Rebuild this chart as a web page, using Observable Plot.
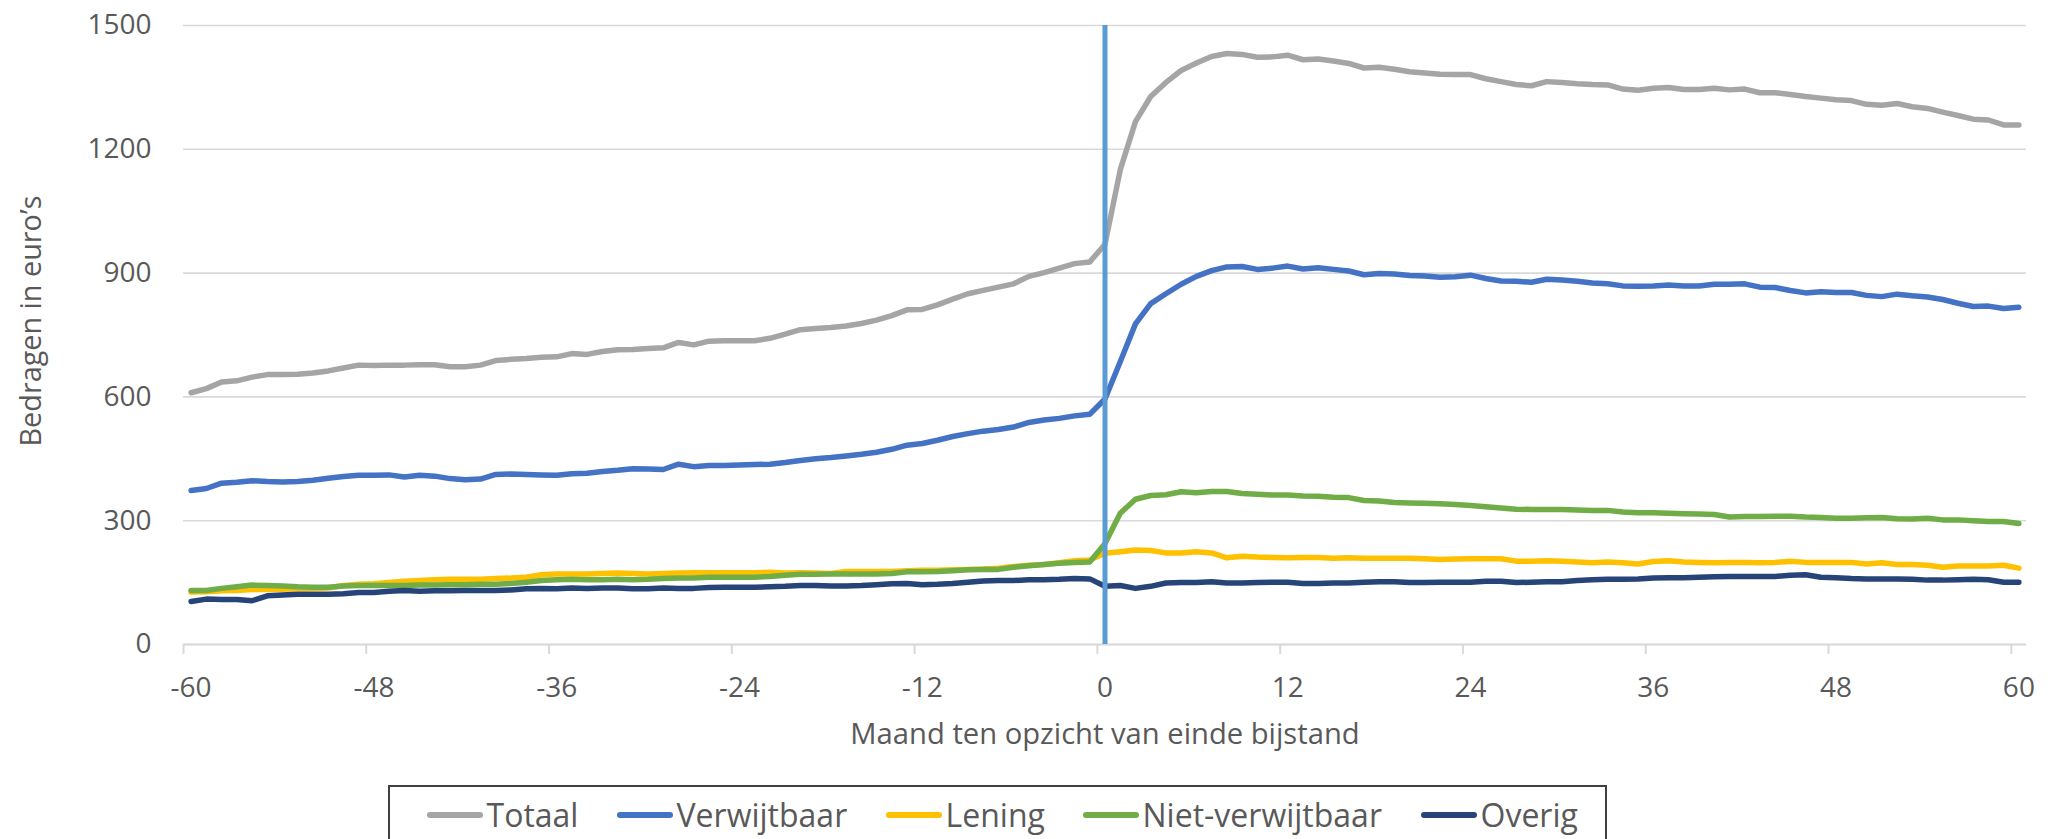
<!DOCTYPE html>
<html>
<head>
<meta charset="utf-8">
<script src="https://cdn.jsdelivr.net/npm/d3@7"></script>
<script src="https://cdn.jsdelivr.net/npm/@observablehq/plot@0.6"></script>
<style>
  html, body { margin: 0; padding: 0; background: #ffffff; }
  #wrap { position: relative; width: 2056px; height: 839px; overflow: hidden; font-family: "Open Sans", sans-serif; }
  #chart svg { display: block; }
  #legend {
    position: absolute; left: 388px; top: 785px; width: 1219px; height: 90px;
    box-sizing: border-box; border: 2px solid #404040; background: #fff;
  }
  .item { position: absolute; top: 7px; display: flex; align-items: center; height: 42px; }
  .sw { width: 56px; height: 5.5px; border-radius: 3px; margin-right: 3.5px; }
  .lb { font-size: 32px; line-height: 42px; color: #595959; white-space: nowrap; }
</style>
</head>
<body>
<div id="wrap">
  <div id="chart"></div>
  <div id="legend"></div>
</div>
<script>
// ---- data ----
const months = d3.range(-60, 61);
const xTicks = [-60, -48, -36, -24, -12, 0, 12, 24, 36, 48, 60];
const yTicks = [0, 300, 600, 900, 1200, 1500];
const seriesNames = ["Totaal", "Verwijtbaar", "Lening", "Niet-verwijtbaar", "Overig"];
const seriesColors = ["#A5A5A5", "#4472C4", "#FFC000", "#70AD47", "#264478"];

const totaal = [
  610,620,636,639,648,654,654,655,658,663,670,677,676,677,677,678,678,673,673,677,688,691,693,696,697,705,703,710,714,715,
  717,719,732,726,735,736,736,736,742,752,763,766,768,772,778,786,797,811,812,823,837,850,858,866,874,892,901,912,923,927,
  970,1150,1267,1328,1362,1391,1409,1425,1432,1430,1423,1424,1428,1417,1419,1414,1408,1397,1399,1394,1388,1385,1382,1381,1381,1371,1364,1357,1354,1364,1362,
  1359,1357,1356,1346,1343,1348,1350,1345,1345,1348,1344,1346,1337,1337,1333,1328,1324,1320,1318,1309,1307,1311,1303,1299,1290,1282,1273,1271,1259,1259
];
const verwijtbaar = [
  373,378,391,393,397,395,394,395,398,403,407,410,410,411,406,410,408,402,399,401,412,413,412,411,410,414,415,419,422,426,
  425,424,437,431,434,434,435,436,437,441,446,450,453,457,461,466,473,483,487,495,504,511,517,521,527,538,544,548,554,558,
  595,685,777,826,850,873,892,906,915,916,909,912,917,910,913,909,905,896,899,898,894,893,890,891,895,887,881,880,878,885,883,
  880,876,874,869,868,869,871,869,869,873,873,874,866,865,858,852,855,853,853,846,843,849,845,842,836,827,819,820,814,817
];
const lening = [
  127,128,130,131,133,133,134,135,136,137,143,146,147,150,153,155,157,158,158,158,160,161,163,169,171,171,171,172,173,172,
  171,172,173,174,174,174,174,174,175,173,174,173,172,177,177,177,177,179,180,180,181,182,183,185,189,192,194,198,203,205,
  221,225,229,228,222,222,225,222,210,214,212,211,210,211,211,209,210,209,209,209,209,208,206,207,208,208,208,202,202,203,202,
  200,198,200,198,195,201,203,200,199,198,199,199,198,199,202,199,199,199,199,195,198,194,194,192,187,190,190,190,192,185
];
const nietVerwijtbaar = [
  131,131,136,140,144,143,142,140,139,139,142,143,143,143,143,144,144,145,145,146,146,148,151,155,157,158,157,157,158,157,
  158,160,161,161,163,163,163,163,165,168,170,170,171,171,171,171,172,176,176,177,179,181,182,182,187,191,194,197,199,200,
  245,318,352,361,363,370,368,371,371,366,364,362,362,360,359,357,356,349,348,344,343,342,341,339,337,334,331,328,327,327,327,
  326,325,325,321,319,319,318,317,316,315,309,310,310,311,311,309,308,306,306,307,308,305,304,306,302,302,300,298,298,293
];
const overig = [
  104,110,109,109,106,118,120,122,122,122,123,126,126,129,131,129,130,130,131,131,131,132,135,136,135,137,136,137,137,135,
  135,137,136,136,138,139,139,139,140,141,143,143,142,142,143,145,147,148,145,146,148,151,154,155,155,157,157,158,160,159,
  141,143,136,141,149,150,150,152,149,149,150,151,151,148,148,149,149,151,152,152,150,150,151,151,151,153,153,150,151,152,152,
  155,157,158,158,159,161,162,162,163,164,165,165,165,165,168,169,163,162,160,159,159,159,158,156,156,157,158,157,151,151
];

const seriesValues = [totaal, verwijtbaar, lening, nietVerwijtbaar, overig];
seriesValues.forEach((s, i) => {
  if (s.length !== months.length) throw new Error(seriesNames[i] + " has " + s.length + " values");
});

const rows = seriesValues.map((vals, i) =>
  months.map((m, j) => ({month: m, value: vals[j], series: seriesNames[i]}))
);

const textColor = "#595959";
const gridColor = "#D9D9D9";

const lineMarks = rows.map((data, i) =>
  Plot.line(data, {
    x: "month", y: "value",
    stroke: seriesColors[i], strokeWidth: 5.5,
    strokeLinejoin: "round", strokeLinecap: "round"
  })
);

const chart = Plot.plot({
  width: 2056,
  height: 770,
  marginLeft: 183,
  marginRight: 30,
  marginTop: 25,
  marginBottom: 126,
  style: {fontFamily: "'Open Sans', sans-serif", fontSize: "28px", color: textColor, background: "white", overflow: "visible"},
  x: {domain: [-60.5, 60.5]},
  y: {domain: [0, 1500]},
  marks: [
    Plot.gridY(yTicks, {stroke: gridColor, strokeOpacity: 1, strokeWidth: 1.6}),
    Plot.ruleY([0], {stroke: gridColor, strokeWidth: 2}),
    Plot.axisX(xTicks.map(d => d - 0.5), {
      tickSize: 10, stroke: gridColor, strokeWidth: 2, strokeOpacity: 1,
      tickFormat: () => "", label: null
    }),
    Plot.axisX(xTicks, {
      tickSize: 0, tickPadding: 33, label: null, fill: textColor, fontSize: 28,
      tickFormat: d => String(d)
    }),
    Plot.axisY(yTicks, {
      tickSize: 0, tickPadding: 32, label: null, fill: textColor, fontSize: 28,
      tickFormat: d => String(d)
    }),
    ...lineMarks,
    Plot.ruleX([0], {stroke: "#5B9BD5", strokeWidth: 5}),
    Plot.text(["Maand ten opzicht van einde bijstand"], {
      text: d => d, frameAnchor: "bottom", dy: 90,
      fontSize: 29.2, fill: textColor, textAnchor: "middle", lineAnchor: "middle"
    }),
    Plot.text(["Bedragen in euro’s"], {
      text: d => d, frameAnchor: "left", rotate: -90, dx: -152, dy: -14,
      fontSize: 28.8, fill: textColor, textAnchor: "middle", lineAnchor: "middle"
    })
  ]
});
document.getElementById("chart").appendChild(chart);

// legend (item left offsets inside the box, in px)
const legendOffsets = [37, 227, 496, 693, 1031];
const legend = d3.select("#legend");
seriesNames.forEach((name, i) => {
  const item = legend.append("div").attr("class", "item").style("left", legendOffsets[i] + "px");
  item.append("div").attr("class", "sw").style("background", seriesColors[i]);
  item.append("div").attr("class", "lb").text(name);
});
</script>
</body>
</html>
